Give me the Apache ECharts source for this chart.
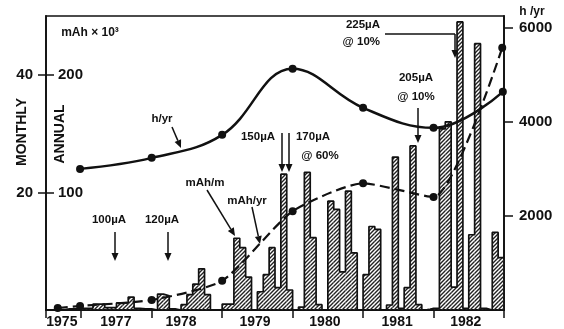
<!DOCTYPE html>
<html>
<head>
<meta charset="utf-8">
<script src="https://cdn.jsdelivr.net/npm/echarts@6/dist/echarts.min.js"></script>
<style>
  html, body { margin: 0; padding: 0; background: #fff; }
  #chart { width: 564px; height: 329px; }
</style>
</head>
<body>
<div id="chart"></div>
<script>
// monthly mAh (x10^3), one value per month, month 0 = left edge of plot
const monthlyMah = [
  0, 0, 0, 0.2, 0.2, 0.3, 0.3, 0.3, 1, 1, 0.4, 0.4,
  1.2, 1.2, 2.2, 0.3, 0.2, 0.2, 0, 2.7, 2.4, 0.2, 0, 0.9,
  2.6, 4.4, 7, 2.6, 0, 0, 1, 1, 12.2, 10.6, 5.6, 0,
  3.1, 6, 10.6, 3.8, 23.1, 3.4, 0, 0.5, 23.4, 12.3, 0.9, 0,
  18.5, 17.1, 6.5, 20.2, 9.7, 0, 6, 14.2, 13.7, 0, 0.85, 26,
  0.3, 3.8, 27.9, 0.9, 0, 0.3, 0.3, 30.8, 32, 3.9, 49, 0.3,
  12.8, 45.3, 0.3, 0, 13.2, 8.9
];
// h/yr (right axis)
const hourMonths = [5.8, 18, 30, 42, 54, 66, 77.8];
const hoursPerYear = [3000, 3234, 3723, 5128, 4298, 3872, 4638];
// mAh/yr (annual axis, x10^3)
const annualMonths = [2, 5.8, 18, 30, 42, 54, 66, 77.7];
const annualMah = [1.7, 3.4, 8.5, 24.8, 84, 107.7, 96, 223];

const yearTicks = [0, 6, 18, 30, 42, 54, 66, 78];
const yearLabelPos = [2.7, 11.9, 23, 35.6, 47.5, 59.8, 71.5];
const yearLabels = ['1975', '1977', '1978', '1979', '1980', '1981', '1982'];
const monthlyTicks = [20, 40];
const annualTicks = [100, 200];
const hourTicks = [2000, 4000, 6000];

const FONT = 'Liberation Sans';
const INK = '#111';

function hatchPattern() {
  var c = document.createElement('canvas');
  c.width = 4; c.height = 4;
  var g = c.getContext('2d');
  g.strokeStyle = '#222';
  g.lineWidth = 1.4;
  g.beginPath();
  g.moveTo(0, 4); g.lineTo(4, 0);
  g.moveTo(-1, 1); g.lineTo(1, -1);
  g.moveTo(3, 5); g.lineTo(5, 3);
  g.stroke();
  return c;
}
var hatch = { image: hatchPattern(), repeat: 'repeat' };

function txt(x, y, s, size, align) {
  return {
    type: 'text', x: x, y: y, z: 20,
    style: {
      text: s, fill: INK, font: 'bold ' + (size || 11.5) + 'px "' + FONT + '"',
      align: align || 'center', verticalAlign: 'middle'
    }
  };
}
function arrow(x1, y1, x2, y2) {
  var a = Math.atan2(y2 - y1, x2 - x1), L = 8, W = 3.5;
  var bx = x2 - L * Math.cos(a), by = y2 - L * Math.sin(a);
  var nx = -Math.sin(a) * W, ny = Math.cos(a) * W;
  return {
    type: 'group', z: 20,
    children: [
      { type: 'line', shape: { x1: x1, y1: y1, x2: bx, y2: by }, style: { stroke: INK, lineWidth: 1.5 } },
      { type: 'polygon', shape: { points: [[x2, y2], [bx + nx, by + ny], [bx - nx, by - ny]] }, style: { fill: INK } }
    ]
  };
}
function plain(v) { return String(v); }

var outline = monthlyMah.map(function (v, i) { return [i, v]; });
outline.push([monthlyMah.length, monthlyMah[monthlyMah.length - 1]]);

var chart = echarts.init(document.getElementById('chart'));
chart.setOption({
  animation: false,
  backgroundColor: '#fff',
  grid: { left: 46, right: 60, top: 16, bottom: 19, show: true, borderColor: INK, borderWidth: 1.5 },
  xAxis: {
    type: 'value', min: 0, max: 78,
    axisLine: { lineStyle: { color: INK, width: 1.8 } },
    axisTick: { customValues: yearTicks, length: 8, lineStyle: { color: INK, width: 1.5 } },
    axisLabel: {
      customValues: yearLabelPos, margin: 5, color: INK, fontFamily: FONT, fontWeight: 'bold', fontSize: 14,
      formatter: function (v) {
        var i = yearLabelPos.indexOf(v);
        return i >= 0 ? yearLabels[i] : '';
      }
    },
    splitLine: { show: false }
  },
  yAxis: [
    {
      type: 'value', min: 0, max: 50, position: 'left',
      axisLine: { show: true, lineStyle: { color: INK, width: 1.8 } },
      axisTick: { show: true, customValues: monthlyTicks, length: 8, lineStyle: { color: INK, width: 1.5 } },
      axisLabel: { customValues: monthlyTicks, formatter: plain, margin: 13, color: INK, fontFamily: FONT, fontWeight: 'bold', fontSize: 15 },
      splitLine: { show: false }
    },
    {
      type: 'value', min: 0, max: 250, position: 'left',
      axisLine: { show: false },
      axisTick: { show: true, inside: true, customValues: annualTicks, length: 8, lineStyle: { color: INK, width: 1.5 } },
      axisLabel: { inside: true, customValues: annualTicks, formatter: plain, margin: 12, color: INK, fontFamily: FONT, fontWeight: 'bold', fontSize: 15 },
      splitLine: { show: false }
    },
    {
      type: 'value', min: 0, max: 6250, position: 'right',
      axisLine: { show: true, lineStyle: { color: INK, width: 1.8 } },
      axisTick: { show: true, customValues: hourTicks, length: 9, lineStyle: { color: INK, width: 1.5 } },
      axisLabel: { customValues: hourTicks, formatter: plain, margin: 15, color: INK, fontFamily: FONT, fontWeight: 'bold', fontSize: 15 },
      splitLine: { show: false }
    }
  ],
  series: [
    {
      type: 'custom', xAxisIndex: 0, yAxisIndex: 0, z: 2,
      data: monthlyMah.map(function (v, i) { return [i, v]; }),
      encode: { x: 0, y: 1 },
      renderItem: function (params, api) {
        var m = api.value(0), v = api.value(1);
        var p0 = api.coord([m, v]), p1 = api.coord([m + 1, 0]);
        return {
          type: 'rect',
          shape: { x: p0[0], y: p0[1], width: p1[0] - p0[0], height: p1[1] - p0[1] },
          style: { fill: hatch }
        };
      }
    },
    {
      type: 'line', xAxisIndex: 0, yAxisIndex: 0, z: 3,
      data: outline, step: 'end', symbol: 'none',
      lineStyle: { color: INK, width: 1.7 }
    },
    {
      name: 'mAh/yr', type: 'line', xAxisIndex: 0, yAxisIndex: 1, z: 5,
      data: annualMonths.map(function (m, i) { return [m, annualMah[i]]; }),
      smooth: 0.2, symbol: 'circle', symbolSize: 8,
      itemStyle: { color: INK },
      lineStyle: { color: INK, width: 2.2, type: [10, 5] }
    },
    {
      name: 'h/yr', type: 'line', xAxisIndex: 0, yAxisIndex: 2, z: 5,
      data: hourMonths.map(function (m, i) { return [m, hoursPerYear[i]]; }),
      smooth: 0.4, symbol: 'circle', symbolSize: 8,
      itemStyle: { color: INK },
      lineStyle: { color: INK, width: 2.5 }
    }
  ],
  graphic: [
    txt(90, 33, 'mAh × 10³', 12),
    { type: 'text', x: 22, y: 132, rotation: Math.PI / 2, z: 20,
      style: { text: 'MONTHLY', fill: INK, font: 'bold 14px "' + FONT + '"', align: 'center', verticalAlign: 'middle' } },
    { type: 'text', x: 60, y: 134, rotation: Math.PI / 2, z: 20,
      style: { text: 'ANNUAL', fill: INK, font: 'bold 14px "' + FONT + '"', align: 'center', verticalAlign: 'middle' } },
    txt(532, 12, 'h /yr', 12),
    txt(162, 119, 'h/yr'), arrow(172, 127, 181, 148),
    txt(109, 220, '100µA'), arrow(115, 232, 115, 261),
    txt(162, 220, '120µA'), arrow(168, 232, 168, 261),
    txt(205, 183, 'mAh/m'), arrow(207, 190, 235, 236),
    txt(247, 201, 'mAh/yr'), arrow(252, 207, 260, 244),
    txt(258, 137, '150µA'), txt(313, 137, '170µA'),
    arrow(282, 133, 282, 172), arrow(289, 133, 289, 172),
    txt(320, 156, '@ 60%'),
    txt(416, 78, '205µA'), txt(416, 97, '@ 10%'), arrow(418, 108, 418, 143),
    txt(380, 25, '225µA', 11.5, 'right'), txt(380, 42, '@ 10%', 11.5, 'right'),
    { type: 'line', z: 20, shape: { x1: 385, y1: 34, x2: 455, y2: 34 }, style: { stroke: INK, lineWidth: 1.5 } },
    arrow(455, 34, 455, 58)
  ]
});
</script>
</body>
</html>
